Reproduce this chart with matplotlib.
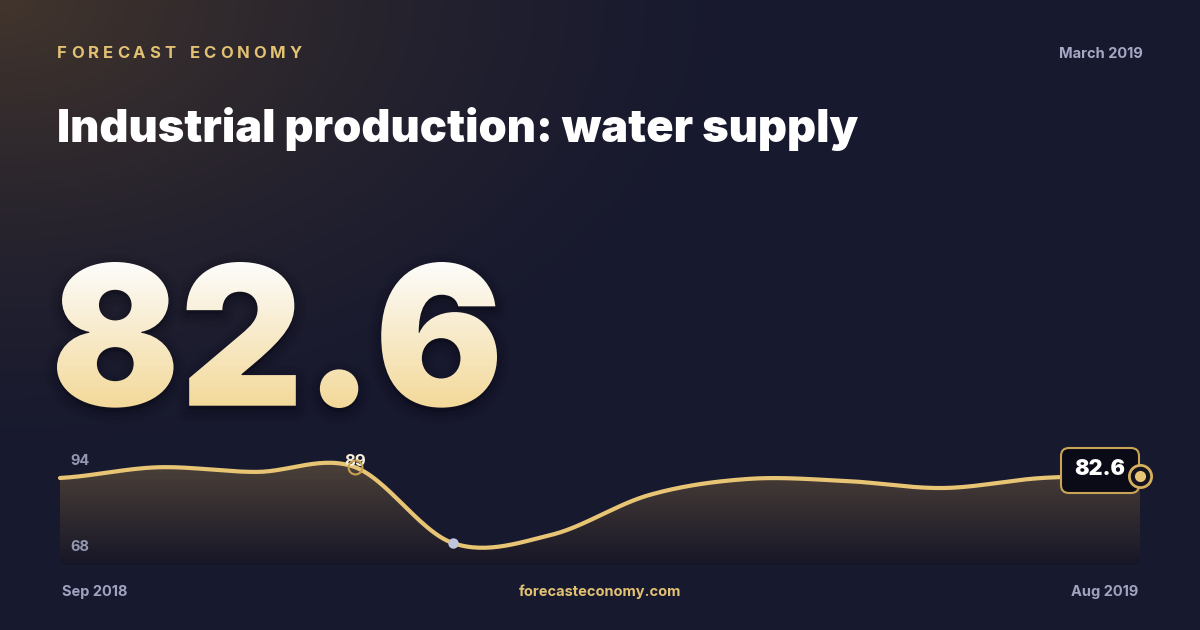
import numpy as np
import matplotlib
matplotlib.use("Agg")
import matplotlib.pyplot as plt
from matplotlib.textpath import TextPath
from matplotlib.font_manager import FontProperties
from matplotlib.patches import PathPatch, FancyBboxPatch, Polygon
from matplotlib.transforms import Affine2D

# data
months = ["Sep 2018", "Oct 2018", "Nov 2018", "Dec 2018", "Jan 2019", "Feb 2019",
          "Mar 2019", "Apr 2019", "May 2019", "Jun 2019", "Jul 2019", "Aug 2019"]
values = [81.2, 88.8, 85.5, 89.0, 35.1, 40.8, 69.1, 80.5, 79.1, 74.1, 81.2, 82.6]
headline = "82.6"
title = "Industrial production: water supply"
brand = "FORECAST ECONOMY"
period = "March 2019"
site = "forecasteconomy.com"
range_labels = ["94", "68"]
peak_label = "89"
last_label = "82.6"

FONT = ["Inter", "DejaVu Sans"]
plt.rcParams["font.family"] = FONT

W, H = 1200, 630
fig = plt.figure(figsize=(12, 6.3), dpi=100)
bg = fig.add_axes([0, 0, 1, 1])
bg.axis("off")

# background: navy with a warm glow in the top left corner
yy, xx = np.mgrid[0:H, 0:W]
d = np.sqrt((xx / 780.0) ** 2 + (yy / 480.0) ** 2)
w = np.clip(1 - d, 0, 1) ** 1.5
base = np.array([0x17, 0x19, 0x2f]) / 255
glow = np.array([0x42, 0x35, 0x2c]) / 255
img = base * (1 - w[..., None]) + glow * w[..., None]
bg.imshow(img, extent=(0, W, H, 0), aspect="auto", zorder=0)
bg.set_xlim(0, W)
bg.set_ylim(H, 0)

renderer = fig.canvas.get_renderer()

# brand, letter spaced
chars = list(brand)
widths = []
for c in chars:
    t = bg.text(0, 0, c, fontsize=12, fontweight="bold", color="#e3c173")
    widths.append(t.get_window_extent(renderer).width if c != " " else 6)
    t.remove()
gap = (245 - sum(widths)) / (len(chars) - 1)
x = 57
for c, cw in zip(chars, widths):
    if c != " ":
        bg.text(x, 53, c, fontsize=12, fontweight="bold", color="#e3c173", va="center", ha="left")
    x += cw + gap

bg.text(1143, 54, period, fontsize=10.5, fontweight="bold", color="#a6a9c4", ha="right", va="center")

# title, sized to the width in the picture
t = bg.text(57, 142, title, fontsize=34, fontweight="black", color="white", ha="left", va="baseline")
tw = t.get_window_extent(renderer).width
t.set_fontsize(34 * 801 / tw)

# big headline number with vertical gradient
fp = FontProperties(family=FONT, weight="black")
tp = TextPath((0, 0), headline, size=100, prop=fp)
bb = tp.get_extents()
s = 146 / bb.height
sx = 440 / (bb.width * s)
tr = Affine2D().translate(-bb.x0, -bb.y1).scale(s * sx, -s).translate(57, 262)
big = tr.transform_path(tp)
for lw, a in [(18, 0.05), (12, 0.07), (6, 0.1)]:
    bg.add_patch(PathPatch(Affine2D().translate(0, 4).transform_path(big), facecolor="#05050c",
                           edgecolor="#05050c", lw=lw, alpha=a, joinstyle="round", zorder=2))
clip = PathPatch(big, facecolor="none", edgecolor="none", zorder=3)
bg.add_patch(clip)
grad = np.linspace(0, 1, 200)[:, None, None]
top_c = np.array([0xfd, 0xfd, 0xfc]) / 255
bot_c = np.array([0xf3, 0xd8, 0x98]) / 255
gimg = top_c * (1 - grad) + bot_c * grad
gi = bg.imshow(gimg, extent=(50, 520, 410, 260), aspect="auto", zorder=3)
gi.set_clip_path(clip)
bg.set_xlim(0, W)
bg.set_ylim(H, 0)

# sparkline
ax = fig.add_axes([60 / W, 65 / H, 1080 / W, 110 / H])
ax.axis("off")
ylo, yhi = 19.5, 97.5
ax.set_xlim(0, len(values) - 1)
ax.set_ylim(ylo, yhi)

def cardinal(v, n=30):
    p = np.array(v, dtype=float)
    ext = np.concatenate([[p[0]], p, [p[-1]]])
    m = (ext[2:] - ext[:-2]) / 2
    xs, ys = [], []
    for i in range(len(p) - 1):
        tt = np.linspace(0, 1, n, endpoint=(i == len(p) - 2))
        h00 = 2 * tt**3 - 3 * tt**2 + 1
        h10 = tt**3 - 2 * tt**2 + tt
        h01 = -2 * tt**3 + 3 * tt**2
        h11 = tt**3 - tt**2
        ys.append(h00 * p[i] + h10 * m[i] + h01 * p[i + 1] + h11 * m[i + 1])
        xs.append(i + tt)
    return np.concatenate(xs), np.concatenate(ys)

xs, ys = cardinal(values)
poly = Polygon(np.column_stack([np.r_[xs, xs[-1], xs[0]], np.r_[ys, ylo, ylo]]),
               closed=True, facecolor="none", edgecolor="none")
ax.add_patch(poly)
g2 = np.linspace(0, 1, 200)[:, None, None]
ftop = np.array([0x50, 0x44, 0x3a]) / 255
fbot = np.array([0x17, 0x16, 0x27]) / 255
fimg = ftop * (1 - g2) + fbot * g2
fi = ax.imshow(fimg, extent=(0, len(values) - 1, ylo, yhi), aspect="auto", zorder=1)
fi.set_clip_path(poly)
ax.set_xlim(0, len(values) - 1)
ax.set_ylim(ylo, yhi)
ax.plot(xs, ys, color="#e8c574", lw=3, solid_capstyle="round", zorder=2, clip_on=False)

imax = int(np.argmax(values))
imin = int(np.argmin(values))
ax.plot(imin, values[imin], "o", ms=7.5, mfc="#c0c4dc", mec="none", zorder=3)

# overlay for labels and markers on top of the sparkline
top = fig.add_axes([0, 0, 1, 1])
top.axis("off")
top.patch.set_alpha(0)
top.set_xlim(0, W)
top.set_ylim(H, 0)

top.text(70, 461, range_labels[0], fontsize=10.5, fontweight="bold", color="#9497b3", ha="left", va="center")
top.text(70, 547, range_labels[1], fontsize=10.5, fontweight="bold", color="#9497b3", ha="left", va="center")
top.text(355, 461, peak_label, fontsize=12, fontweight="bold", color="#f6efdc", ha="center", va="center", zorder=3)

box = FancyBboxPatch((1061, 448), 78, 45, boxstyle="round,pad=0,rounding_size=8",
                     facecolor="#0b0b18", edgecolor="#c9a455", lw=1.5, zorder=2)
top.add_patch(box)
top.text(1100, 469, last_label, fontsize=15.5, fontweight="black", color="white", ha="center", va="center", zorder=3)

# markers drawn in data space of the sparkline, on the overlay axes
tr_data = ax.transData + top.transData.inverted()
px, py = tr_data.transform((imax, values[imax]))
top.plot(px, py, "o", ms=10, mfc="none", mec="#c9a250", mew=1.5, zorder=4)
ex, ey = tr_data.transform((len(values) - 1, values[-1]))
top.plot(ex, ey, "o", ms=16, mfc="#14131f", mec="#d4af5c", mew=2, zorder=4)
top.plot(ex, ey, "o", ms=8, mfc="#e8c574", mec="none", zorder=5)

# footer
top.text(62, 592, months[0], fontsize=10.5, fontweight="bold", color="#a0a3bf", ha="left", va="center")
top.text(600, 592, site, fontsize=10.5, fontweight="bold", color="#e3c173", ha="center", va="center")
top.text(1138, 592, months[-1], fontsize=10.5, fontweight="bold", color="#a0a3bf", ha="right", va="center")

fig.savefig("out.png", dpi=100, facecolor="#17192f")
